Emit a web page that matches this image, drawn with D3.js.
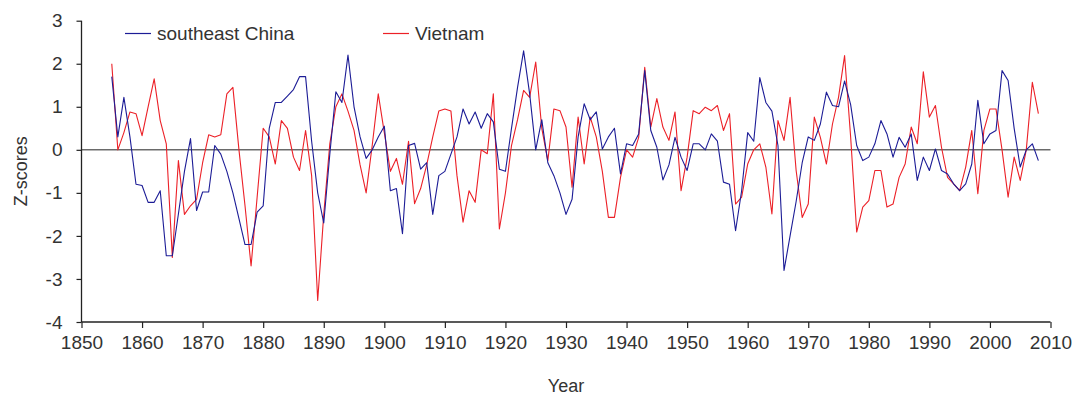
<!DOCTYPE html>
<html>
<head>
<meta charset="utf-8">
<script src="https://cdn.jsdelivr.net/npm/d3@7"></script>
<style>
  body { margin: 0; background: #fff; }
  svg text { font-family: "Liberation Sans", Arial, sans-serif; fill: #333; }
</style>
</head>
<body>
<div id="chartContainer"></div>
<script>
// years of the record
const startYear = 1855;
const endYear = 2008;

// z-scores, one per year from 1855
const chinaValues = [
  1.7, 0.3, 1.22, 0.3, -0.8, -0.83, -1.22, -1.22, -0.95, -2.46,
  -2.46, -1.49, -0.5, 0.26, -1.41, -0.98, -0.98, 0.1, -0.1, -0.5,
  -1.0, -1.6, -2.2, -2.2, -1.45, -1.3, 0.5, 1.1, 1.1, 1.25,
  1.4, 1.7, 1.7, 0.2, -1.0, -1.7, -0.1, 1.35, 1.1, 2.2,
  1.0, 0.3, -0.2, 0.0, 0.3, 0.55, -0.95, -0.9, -1.95, 0.1,
  0.15, -0.45, -0.3, -1.5, -0.6, -0.5, -0.1, 0.3, 0.95, 0.6,
  0.88, 0.5, 0.84, 0.65, -0.45, -0.5, 0.5, 1.45, 2.3, 1.3,
  0.0, 0.7, -0.3, -0.6, -1.0, -1.5, -1.15, 0.3, 1.07, 0.7,
  0.88, 0.02, 0.3, 0.5, -0.56, 0.14, 0.1, 0.37, 1.84, 0.45,
  0.06, -0.7, -0.35, 0.29, -0.17, -0.48, 0.14, 0.14, 0.0, 0.37,
  0.2, -0.75, -0.8, -1.88, -0.95, 0.4, 0.2, 1.68, 1.1, 0.9,
  0.1, -2.8, -2.0, -1.2, -0.3, 0.3, 0.22, 0.6, 1.34, 1.03,
  1.0, 1.6, 1.05, 0.1, -0.25, -0.17, 0.14, 0.68, 0.37, -0.17,
  0.29, 0.06, 0.37, -0.71, -0.17, -0.48, 0.02, -0.48, -0.56, -0.79,
  -0.95, -0.79, -0.33, 1.15, 0.14, 0.37, 0.45, 1.84, 1.61, 0.5,
  -0.4, 0.0, 0.14, -0.25
];

const vietnamValues = [
  2.0, 0.0, 0.4, 0.88, 0.84, 0.33, 1.0, 1.65, 0.68, 0.14,
  -2.5, -0.25, -1.5, -1.3, -1.15, -0.3, 0.35, 0.3, 0.35, 1.3,
  1.45, 0.0, -1.3, -2.7, -1.1, 0.5, 0.3, -0.33, 0.68, 0.5,
  -0.17, -0.48, 0.45, -0.6, -3.5, -1.5, 0.14, 1.0, 1.3, 0.9,
  0.45, -0.35, -1.0, 0.1, 1.3, 0.4, -0.5, -0.2, -0.8, 0.2,
  -1.25, -0.9, -0.35, 0.3, 0.9, 0.95, 0.9, -0.6, -1.68, -0.95,
  -1.22, 0.0, -0.09, 1.3, -1.84, -1.0, 0.1, 0.7, 1.38, 1.22,
  2.04, 0.5, -0.25, 0.95, 0.91, 0.53, -0.87, 0.76, -0.33, 0.76,
  0.3, -0.5, -1.57, -1.57, -0.64, 0.0, -0.17, 0.29, 1.92, 0.53,
  1.19, 0.53, 0.22, 0.88, -0.95, -0.17, 0.91, 0.84, 0.99, 0.91,
  1.03, 0.45, 0.84, -1.26, -1.1, -0.33, 0.0, 0.14, -0.4, -1.49,
  0.68, 0.22, 1.22, -0.48, -1.57, -1.26, 0.76, 0.29, -0.33, 0.6,
  1.22, 2.19, 0.3, -1.91, -1.33, -1.18, -0.48, -0.48, -1.33, -1.26,
  -0.64, -0.33, 0.53, 0.14, 1.81, 0.76, 1.03, 0.06, -0.64, -0.79,
  -0.95, -0.4, 0.45, -1.02, 0.45, 0.95, 0.95, 0.0, -1.1, -0.17,
  -0.71, 0.0, 1.57, 0.84
];

const xTicks = [1850, 1860, 1870, 1880, 1890, 1900, 1910, 1920, 1930, 1940,
  1950, 1960, 1970, 1980, 1990, 2000, 2010];
const yTicks = [-4, -3, -2, -1, 0, 1, 2, 3];

const seriesNames = ['southeast China', 'Vietnam'];
const seriesColors = ['#1c1c96', '#ec2027'];

const width = 1078, height = 401;

const svg = d3.select('#chartContainer')
  .append('svg')
  .attr('width', width)
  .attr('height', height);

const x = d3.scaleLinear().domain([1850, 2010]).range([81.5, 1050.5]);
const y = d3.scaleLinear().domain([-4, 3]).range([322, 20.7]);

const years = d3.range(startYear, endYear + 1);
const series = [chinaValues, vietnamValues].map((vals, i) => ({
  name: seriesNames[i],
  color: seriesColors[i],
  points: vals.map((v, j) => ({ year: years[j], value: v }))
}));

// zero line
svg.append('line')
  .attr('x1', x(1850)).attr('x2', x(2010))
  .attr('y1', y(0)).attr('y2', y(0))
  .attr('stroke', '#222')
  .attr('stroke-width', 1);

const line = d3.line()
  .x(d => x(d.year))
  .y(d => y(d.value));

// red under blue
[series[1], series[0]].forEach(s => {
  svg.append('path')
    .datum(s.points)
    .attr('fill', 'none')
    .attr('stroke', s.color)
    .attr('stroke-width', 1.1)
    .attr('stroke-linejoin', 'round')
    .attr('d', line);
});

// axes
const xAxis = svg.append('g')
  .attr('transform', `translate(0,${y(-4)})`)
  .call(d3.axisBottom(x).tickValues(xTicks).tickFormat(d => String(d)).tickSize(6).tickPadding(8));

const yAxis = svg.append('g')
  .attr('transform', `translate(${x(1850)},0)`)
  .call(d3.axisLeft(y).tickValues(yTicks).tickFormat(d => String(d)).tickSize(5).tickPadding(14));

[xAxis, yAxis].forEach(g => {
  g.select('.domain').attr('stroke', '#222').attr('stroke-width', 1.3);
  g.selectAll('.tick line').attr('stroke', '#222').attr('stroke-width', 1.2);
  g.selectAll('.tick text')
    .attr('fill', '#333')
    .style('font-size', '19px')
    .style('font-family', '"Liberation Sans", Arial, sans-serif');
});
xAxis.select('.domain').attr('d', `M${x(1850)},0H${x(2010)}`);
yAxis.select('.domain').attr('d', `M0,${y(3)}V${y(-4)}`);

// axis titles
svg.append('text')
  .attr('x', (x(1850) + x(2010)) / 2)
  .attr('y', 392)
  .attr('text-anchor', 'middle')
  .style('font-size', '18px')
  .text('Year');

svg.append('text')
  .attr('transform', `translate(27,${(y(3) + y(-4)) / 2}) rotate(-90)`)
  .attr('text-anchor', 'middle')
  .style('font-size', '18px')
  .text('Z-scores');

// legend
const legendX = [125, 383];
series.forEach((s, i) => {
  svg.append('line')
    .attr('x1', legendX[i]).attr('x2', legendX[i] + 26)
    .attr('y1', 33.5).attr('y2', 33.5)
    .attr('stroke', s.color)
    .attr('stroke-width', 1.2);
  svg.append('text')
    .attr('x', legendX[i] + 32)
    .attr('y', 40)
    .style('font-size', '19px')
    .text(s.name);
});
</script>
</body>
</html>
